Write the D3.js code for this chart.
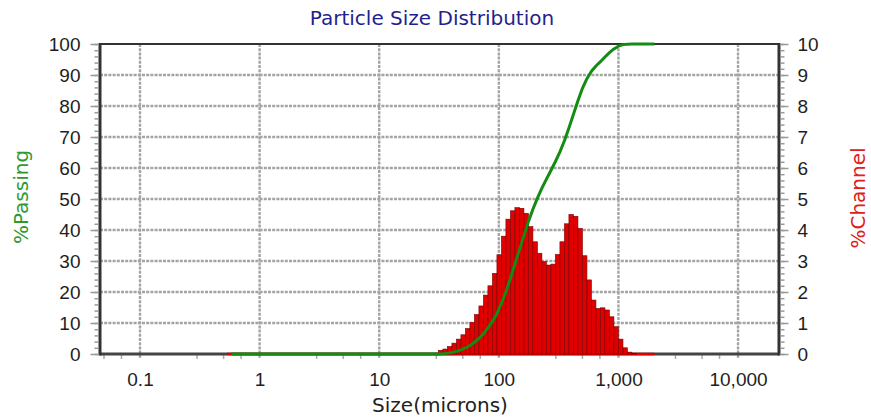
<!DOCTYPE html>
<html>
<head>
<meta charset="utf-8">
<style>
 body { margin: 0; background: #fff; }
 svg { font-family: "DejaVu Sans", Verdana, sans-serif; background: #fff; }
 .grid line { stroke: #a4a4a4; stroke-width: 2.4px; stroke-dasharray: 3,1.2; }
 .tick text { fill: #1e1e1e; }
 .tick line { stroke: #999; stroke-width: 1.5px; }
 .domain { display: none; }
</style>
</head>
<body>
<svg width="871" height="420"></svg>
<script src="https://cdn.jsdelivr.net/npm/d3@7"></script>
<script>
// channel edges in microns (ascending)
var sizes = [0.532, 0.581, 0.633, 0.691, 0.753, 0.821, 0.896, 0.977, 1.065, 1.161, 1.266, 1.381,
  1.506, 1.642, 1.791, 1.953, 2.130, 2.323, 2.533, 2.762, 3.012, 3.285, 3.582, 3.906, 4.260, 4.645,
  5.066, 5.524, 6.024, 6.570, 7.164, 7.813, 8.520, 9.291, 10.13, 11.05, 12.05, 13.14, 14.33, 15.63,
  17.04, 18.58, 20.26, 22.10, 24.10, 26.28, 28.66, 31.25, 34.07, 37.16, 40.52, 44.19, 48.19, 52.55,
  57.31, 62.50, 68.16, 74.33, 81.06, 88.39, 96.40, 105.1, 114.6, 125.0, 136.3, 148.7, 162.1, 176.8,
  192.7, 210.2, 229.2, 250.0, 272.6, 297.3, 324.2, 353.6, 385.5, 420.4, 458.5, 500.0, 545.2, 594.6,
  648.4, 707.1, 771.1, 840.9, 917.0, 1000, 1091, 1189, 1297, 1414, 1542, 1682, 1834, 2000];

// %Channel, one value per channel (between sizes[i] and sizes[i+1])
var channel = [0, 0, 0, 0, 0, 0, 0, 0, 0, 0, 0, 0, 0, 0, 0, 0, 0, 0, 0, 0, 0, 0, 0, 0,
  0, 0, 0, 0, 0, 0, 0, 0, 0, 0, 0, 0, 0, 0, 0, 0, 0, 0, 0, 0, 0, 0, 0,
  0.12, 0.16, 0.24, 0.35, 0.48, 0.62, 0.82, 1.02, 1.27, 1.55, 1.9, 2.2, 2.6, 3.2, 3.8,
  4.35, 4.62, 4.72, 4.70, 4.54, 4.11, 3.62, 3.25, 2.98, 2.87, 2.90, 3.21, 3.62, 4.20,
  4.50, 4.44, 4.05, 3.17, 2.39, 1.74, 1.47, 1.49, 1.42, 1.20, 0.88, 0.48, 0.20, 0.06, 0.02,
  0, 0, 0, 0];

// %Passing at the upper edge of each channel (sizes[i+1])
var passing = [0, 0, 0, 0, 0, 0, 0, 0, 0, 0, 0, 0, 0, 0, 0, 0, 0, 0, 0, 0, 0, 0, 0, 0,
  0, 0, 0, 0, 0, 0, 0, 0, 0, 0, 0, 0, 0, 0, 0, 0, 0, 0, 0, 0, 0, 0, 0,
  0.12, 0.28, 0.51, 0.86, 1.33, 1.94, 2.74, 3.75, 5.0, 6.5, 8.4, 10.5, 13.0, 16.3, 20.1,
  24.4, 29.0, 33.6, 38.2, 42.7, 46.7, 50.3, 53.5, 56.4, 59.2, 62.1, 65.2, 68.8, 72.9,
  77.3, 81.7, 85.7, 88.8, 91.2, 92.9, 94.3, 95.8, 97.2, 98.4, 99.3, 99.8, 99.95, 100, 100,
  100, 100, 100, 100];

var xTicks = [0.1, 1, 10, 100, 1000, 10000];
var xMinor = [0.03, 0.05, 0.07, 0.3, 0.5, 0.7, 3, 5, 7, 30, 50, 70, 300, 500, 700, 3000, 5000, 7000];
var passTicks = [0, 10, 20, 30, 40, 50, 60, 70, 80, 90, 100];
var chanTicks = [0, 1, 2, 3, 4, 5, 6, 7, 8, 9, 10];

var svg = d3.select("svg"),
    pl = 100, pr = 779, pt = 44, pb = 354;

var x = d3.scaleLog().domain([0.0463, 22000]).range([pl, pr]);
var yP = d3.scaleLinear().domain([0, 100]).range([pb, pt]);
var yC = d3.scaleLinear().domain([0, 10]).range([pb, pt]);

// grid
var grid = svg.append("g").attr("class", "grid");
grid.selectAll(".h").data(passTicks.slice(1, -1)).enter().append("line")
    .attr("x1", pl).attr("x2", pr)
    .attr("y1", function(d){ return yP(d); }).attr("y2", function(d){ return yP(d); });
grid.selectAll(".v").data(xTicks).enter().append("line")
    .attr("y1", pt).attr("y2", pb + 5)
    .attr("x1", function(d){ return x(d); }).attr("x2", function(d){ return x(d); });

// x minor ticks
svg.append("g").selectAll("line").data(xMinor.filter(function(d){ return x(d) > pl; }))
    .enter().append("line")
    .attr("x1", function(d){ return x(d); }).attr("x2", function(d){ return x(d); })
    .attr("y1", pb).attr("y2", pb + 5)
    .attr("stroke", "#aaa").attr("stroke-width", 1.5);

// axis frame
svg.append("line").attr("x1", pl).attr("x2", pr).attr("y1", pt).attr("y2", pt)
    .attr("stroke", "#333").attr("stroke-width", 2);
svg.append("line").attr("x1", pl).attr("x2", pr).attr("y1", pb).attr("y2", pb)
    .attr("stroke", "#444").attr("stroke-width", 3);
svg.append("line").attr("x1", pl).attr("x2", pl).attr("y1", pt - 1).attr("y2", pb + 1.5)
    .attr("stroke", "#333").attr("stroke-width", 3);
svg.append("line").attr("x1", pr).attr("x2", pr).attr("y1", pt - 1).attr("y2", pb + 1.5)
    .attr("stroke", "#333").attr("stroke-width", 3);

// axes
var fs = "19px";
svg.append("g").attr("transform", "translate(" + (pl - 1.5) + ",0)")
    .call(d3.axisLeft(yP).tickValues(d3.range(0, 101, 2)).tickSize(4).tickFormat(""));
svg.append("g").attr("transform", "translate(" + (pl - 1.5) + ",0)")
    .call(d3.axisLeft(yP).tickValues(passTicks).tickSize(8).tickPadding(10))
    .selectAll("text").style("font-size", fs);
svg.append("g").attr("transform", "translate(" + (pr + 1.5) + ",0)")
    .call(d3.axisRight(yC).tickValues(d3.range(0, 10.01, 0.2)).tickSize(4).tickFormat(""));
svg.append("g").attr("transform", "translate(" + (pr + 1.5) + ",0)")
    .call(d3.axisRight(yC).tickValues(chanTicks).tickSize(8).tickPadding(9))
    .selectAll("text").style("font-size", fs);
var xAxisG = svg.append("g").attr("transform", "translate(0," + pb + ")")
    .call(d3.axisBottom(x).tickValues(xTicks).tickSize(5).tickPadding(14).tickFormat(d3.format(",")));
xAxisG.selectAll("line").remove();
xAxisG.selectAll("text").style("font-size", fs);

// zero baseline of the channel series
svg.append("line")
    .attr("x1", x(sizes[0])).attr("x2", x(sizes[sizes.length - 1]))
    .attr("y1", yC(0)).attr("y2", yC(0))
    .attr("stroke", "#e00000").attr("stroke-width", 2.5);

// bars
svg.append("g").selectAll("rect")
    .data(channel.map(function(v, i){ return {lo: sizes[i], hi: sizes[i + 1], v: v}; })
        .filter(function(d){ return d.v > 0; }))
    .enter().append("rect")
    .attr("x", function(d){ return x(d.lo); })
    .attr("width", function(d){ return x(d.hi) - x(d.lo); })
    .attr("y", function(d){ return yC(d.v); })
    .attr("height", function(d){ return yC(0) - yC(d.v); })
    .attr("fill", "#e00000")
    .attr("stroke", "#7a0000")
    .attr("stroke-width", 0.6);

// %Passing line
var line = d3.line()
    .x(function(d){ return x(d[0]); })
    .y(function(d){ return yP(d[1]); });
svg.append("path")
    .datum(passing.map(function(v, i){ return [sizes[i + 1], v]; }))
    .attr("d", line)
    .attr("fill", "none")
    .attr("stroke", "#128c12")
    .attr("stroke-width", 3)
    .attr("stroke-linejoin", "round");

// titles
svg.append("text").attr("x", 432).attr("y", 25).attr("text-anchor", "middle")
    .style("font-size", "20px").style("fill", "#1f1f8f")
    .text("Particle Size Distribution");
svg.append("text").attr("x", 440).attr("y", 412).attr("text-anchor", "middle")
    .style("font-size", "20px").style("fill", "#222")
    .text("Size(microns)");
svg.append("text").attr("transform", "translate(28,197) rotate(-90)").attr("text-anchor", "middle")
    .style("font-size", "20px").style("fill", "#2e9a2e")
    .text("%Passing");
svg.append("text").attr("transform", "translate(865,198) rotate(-90)").attr("text-anchor", "middle")
    .style("font-size", "20px").style("fill", "#e02020")
    .text("%Channel");
</script>
</body>
</html>
